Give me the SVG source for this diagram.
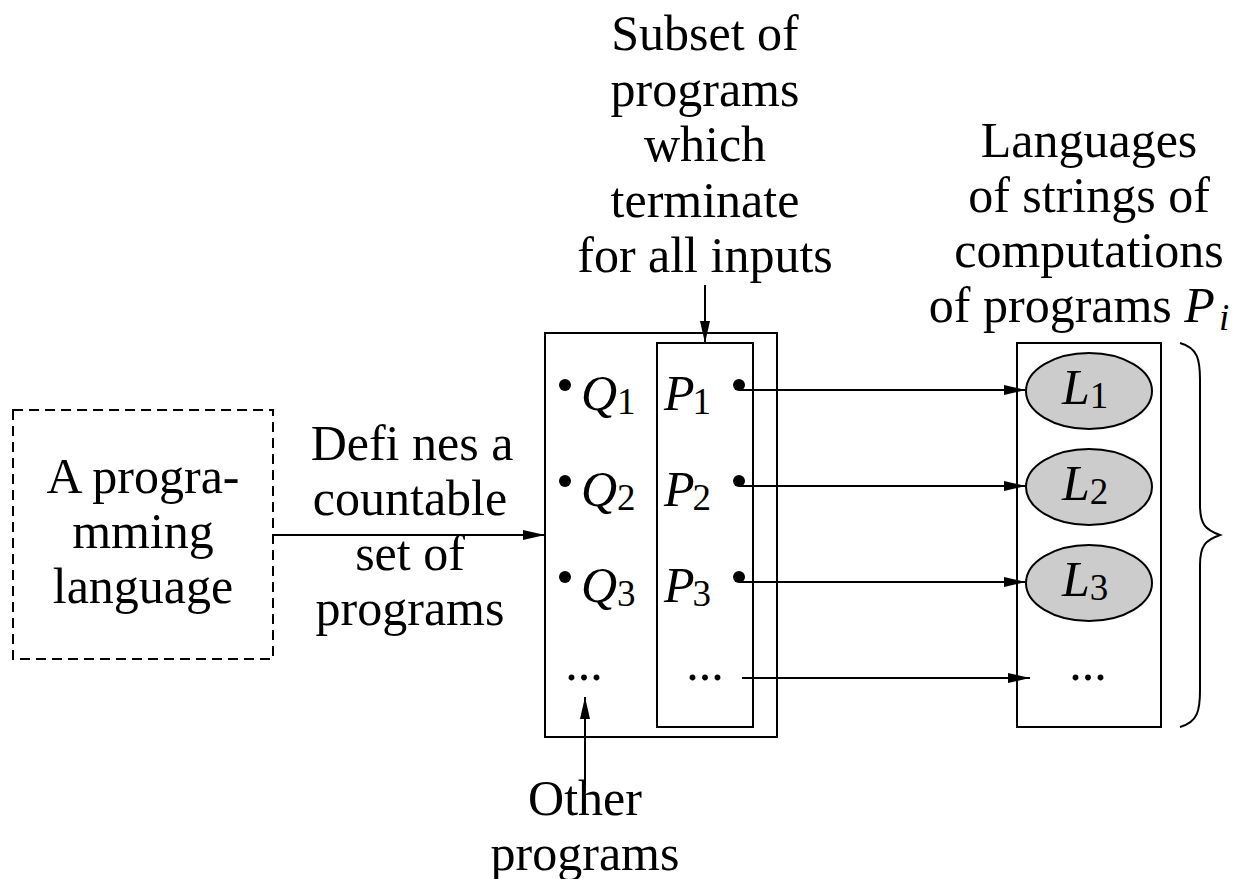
<svg xmlns="http://www.w3.org/2000/svg" width="1244" height="879" viewBox="0 0 1244 879">
<style>
text{font-family:"Liberation Serif","Times New Roman",serif;font-size:50px;fill:#000}
.c{text-anchor:middle}
.i{font-style:italic}
.s{font-size:37px;font-style:normal}
.box{fill:none;stroke:#000;stroke-width:2}
.ln{fill:none;stroke:#000;stroke-width:2}
.ell{fill:#cccccc;stroke:#000;stroke-width:2}
</style>
<defs>
<marker id="ah" markerWidth="22" markerHeight="10" refX="22" refY="5" orient="auto" markerUnits="userSpaceOnUse">
<path d="M0,0 L22,5 L0,10 Z" fill="#000"/>
</marker>
</defs>
<rect width="1244" height="879" fill="#fff"/>
<g id="lang">
<rect x="13" y="410" width="260" height="249" class="box" stroke-dasharray="10,6"/>
<text class="c" x="143" y="493">A progra-</text>
<text class="c" x="143" y="548">mming</text>
<text class="c" x="143" y="603">language</text>
</g>
<g id="defines-label">
<text class="c" x="412" y="460">Defi nes a</text>
<text class="c" x="410" y="515">countable</text>
<text class="c" x="410" y="570">set of</text>
<text class="c" x="410" y="625">programs</text>
</g>
<g id="programs">
<rect x="545" y="333" width="232" height="404" class="box"/>
<circle cx="565" cy="385" r="6"/>
<circle cx="565" cy="481" r="6"/>
<circle cx="565" cy="577" r="6"/>
<text class="i" x="581" y="410">Q<tspan class="s" dy="4">1</tspan></text>
<text class="i" x="581" y="506">Q<tspan class="s" dy="4">2</tspan></text>
<text class="i" x="581" y="602">Q<tspan class="s" dy="4">3</tspan></text>
<text class="c" x="584" y="680">...</text>
</g>
<g id="terminating">
<rect x="657" y="343" width="96" height="384" class="box"/>
<text class="i" x="664" y="410">P<tspan class="s" dx="-2" dy="4">1</tspan></text>
<text class="i" x="664" y="506">P<tspan class="s" dx="-2" dy="4">2</tspan></text>
<text class="i" x="664" y="602">P<tspan class="s" dx="-2" dy="4">3</tspan></text>
<circle cx="739" cy="385" r="6"/>
<circle cx="739" cy="481" r="6"/>
<circle cx="739" cy="577" r="6"/>
<text class="c" x="705" y="680">...</text>
</g>
<g id="subset-label">
<text class="c" x="705" y="50">Subset of</text>
<text class="c" x="705" y="106">programs</text>
<text class="c" x="705" y="161">which</text>
<text class="c" x="705" y="217">terminate</text>
<text class="c" x="705" y="272">for all inputs</text>
</g>
<g id="other-label">
<text class="c" x="585" y="815">Other</text>
<text class="c" x="585" y="870">programs</text>
</g>
<g id="languages">
<rect x="1017" y="343" width="144" height="384" class="box"/>
<ellipse cx="1089" cy="391" rx="63" ry="38" class="ell"/>
<ellipse cx="1089" cy="487" rx="63" ry="38" class="ell"/>
<ellipse cx="1089" cy="583" rx="63" ry="38" class="ell"/>
<text class="i" x="1062" y="404">L<tspan class="s" dy="4">1</tspan></text>
<text class="i" x="1062" y="500">L<tspan class="s" dy="4">2</tspan></text>
<text class="i" x="1062" y="596">L<tspan class="s" dy="4">3</tspan></text>
<text class="c" x="1088" y="680">...</text>
<path d="M1180,343 C1198,348 1200,360 1200,380 L1200,505 C1200,525 1206,530 1220,535 C1206,540 1200,545 1200,565 L1200,690 C1200,710 1198,722 1180,727" class="ln"/>
</g>
<g id="languages-label">
<text class="c" x="1089" y="157">Languages</text>
<text class="c" x="1089" y="212">of strings of</text>
<text class="c" x="1089" y="267">computations</text>
<text class="c" x="1079" y="322">of programs <tspan class="i">P</tspan><tspan style="font-size:37px;font-style:italic" dx="4" dy="8">i</tspan></text>
</g>
<g id="connectors">
<line x1="739" y1="390" x2="1026" y2="390" class="ln" marker-end="url(#ah)"/>
<line x1="273" y1="535" x2="545" y2="535" class="ln" marker-end="url(#ah)"/>
<line x1="705" y1="285" x2="705" y2="343" class="ln" marker-end="url(#ah)"/>
<line x1="585" y1="785" x2="585" y2="697" class="ln" marker-end="url(#ah)"/>
<line x1="739" y1="486" x2="1026" y2="486" class="ln" marker-end="url(#ah)"/>
<line x1="739" y1="582" x2="1026" y2="582" class="ln" marker-end="url(#ah)"/>
<line x1="742" y1="678" x2="1030" y2="678" class="ln" marker-end="url(#ah)"/>
</g>
</svg>
